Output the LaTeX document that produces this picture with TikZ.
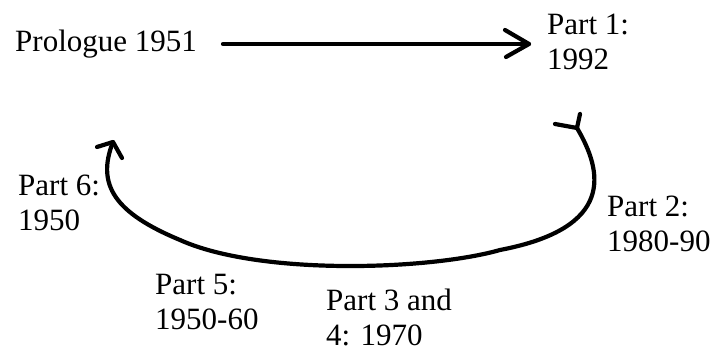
\documentclass[tikz,border=0pt]{standalone}
\usepackage{fontspec}
\setmainfont{Liberation Serif}
\begin{document}
\begin{tikzpicture}[x=1pt,y=-1pt,
  lbl/.style={anchor=base west, inner sep=0pt, align=left,
    font=\fontsize{31}{35}\selectfont},
  stroke/.style={line width=4.2pt, line cap=round, line join=round}]
\useasboundingbox (0,0) rectangle (713,352);

% labels (anchored at the baseline of their last line)
\node[lbl] (pro) at (15,52)  {Prologue 1951};
\node[lbl] (p1)  at (547,70) {Part 1:\\1992};
\node[lbl] (p6)  at (18,231) {Part 6:\\1950};
\node[lbl] (p2)  at (607,252) {Part 2:\\1980-90};
\node[lbl] (p5)  at (155,330) {Part 5:\\1950-60};
\node[lbl] (p3)  at (326,346) {Part 3 and\\4: 1970};

% straight arrow from the prologue to part 1
\coordinate (a0) at (223,44);
\coordinate (a1) at (529,44);
\draw[stroke] (a0) -- (a1);
\draw[stroke] (505,30) -- (a1) -- (506,57);

% the loop back through the later parts
\coordinate (c0) at (577,128);
\coordinate (c1) at (500,250);
\coordinate (c2) at (180,240);
\coordinate (c3) at (113,142);
\draw[stroke] (c0) .. controls (603,172) and (615,228) .. (c1)
  .. controls (430,270) and (260,276) .. (c2)
  .. controls (115,213) and (96,185) .. (c3);
% forked tail at the start of the loop
\draw[stroke] (555,124) -- (c0) -- (580,114);
% open arrowhead at the end of the loop
\draw[stroke] (97,147) -- (c3) -- (122,158);
\end{tikzpicture}
\end{document}
